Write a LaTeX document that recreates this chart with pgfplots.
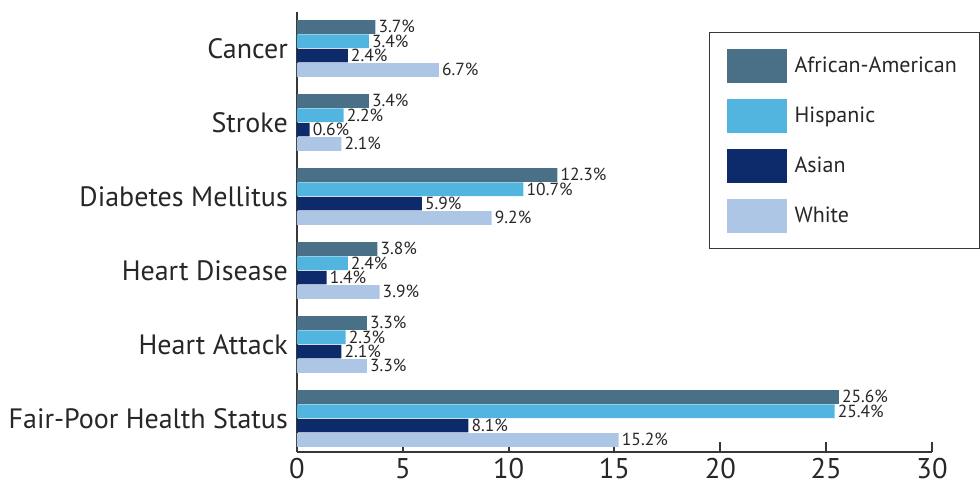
\documentclass[border=0pt]{standalone}
\usepackage{fontspec}
\setmainfont{PT Sans}
\usepackage{pgfplots}
\pgfplotsset{compat=1.18}

\definecolor{afam}{RGB}{74,112,136}
\definecolor{hisp}{RGB}{82,181,224}
\definecolor{asian}{RGB}{13,43,107}
\definecolor{whitegrp}{RGB}{174,198,230}
\definecolor{txt}{RGB}{40,38,40}
\definecolor{axisgray}{RGB}{55,55,55}

\begin{document}
\begin{tikzpicture}
% page frame: axis corner sits 297bp from the left, 33bp above the bottom
\path[use as bounding box] (-297bp,-33bp) rectangle (683bp,452bp);
\begin{axis}[
  at={(0,0)}, anchor=south west,
  scale only axis, width=635bp, height=440bp,
  xmin=0, xmax=30, ymin=-0.453, ymax=5.493,
  xbar, bar width=13.6bp,
  axis lines*=left,
  axis line style={draw=axisgray, line width=2.2bp},
  xtick={0,5,...,30},
  tick align=inside, major tick length=10bp,
  xtick style={draw=axisgray, line width=2bp},
  ytick={0,...,5},
  yticklabels={Fair-Poor Health Status, Heart Attack, Heart Disease, Diabetes Mellitus, Stroke, Cancer},
  ytick style={draw=none},
  yticklabel style={font=\fontsize{28bp}{28bp}\selectfont, text=txt, inner sep=0pt, xshift=-9bp},
  xticklabel style={font=\fontsize{28.5bp}{28.5bp}\selectfont, text=txt, inner sep=0pt, yshift=-6bp},
  /pgf/number format/assume math mode=true,
  point meta=explicit symbolic,
  nodes near coords,
  every node near coord/.append style={font=\fontsize{17.5bp}{17.5bp}\selectfont, text=txt,
    inner xsep=3bp, inner ysep=0pt, text height=11bp, text depth=0pt, anchor=west, yshift=-0.5bp},
  legend image code/.code={\fill[#1] (0bp,-17bp) rectangle (60bp,17bp);},
  legend style={at={(axis description cs:0.6488,0.9545)}, anchor=north west,
    draw=axisgray, line width=1.2bp, fill=white,
    inner xsep=17bp, inner ysep=16bp, row sep=16bp,
    nodes={inner sep=0pt, text=txt, font=\fontsize{22bp}{22bp}\selectfont},
    /tikz/every odd column/.append style={column sep=8bp}},
  legend cell align=left,
]
\addplot[fill=afam, draw=none, bar shift=21.5bp] coordinates {
  (25.6,0) [25.6\%] (3.3,1) [3.3\%] (3.8,2) [3.8\%] (12.3,3) [12.3\%] (3.4,4) [3.4\%] (3.7,5) [3.7\%]};
\addplot[fill=hisp, draw=none, bar shift=7.2bp] coordinates {
  (25.4,0) [25.4\%] (2.3,1) [2.3\%] (2.4,2) [2.4\%] (10.7,3) [10.7\%] (2.2,4) [2.2\%] (3.4,5) [3.4\%]};
\addplot[fill=asian, draw=none, bar shift=-7.2bp] coordinates {
  (8.1,0) [8.1\%] (2.1,1) [2.1\%] (1.4,2) [1.4\%] (5.9,3) [5.9\%] (0.6,4) [0.6\%] (2.4,5) [2.4\%]};
\addplot[fill=whitegrp, draw=none, bar shift=-21.5bp] coordinates {
  (15.2,0) [15.2\%] (3.3,1) [3.3\%] (3.9,2) [3.9\%] (9.2,3) [9.2\%] (2.1,4) [2.1\%] (6.7,5) [6.7\%]};
\legend{\makebox[168bp][l]{African-American}, Hispanic, Asian, White}
\end{axis}
\end{tikzpicture}
\end{document}
